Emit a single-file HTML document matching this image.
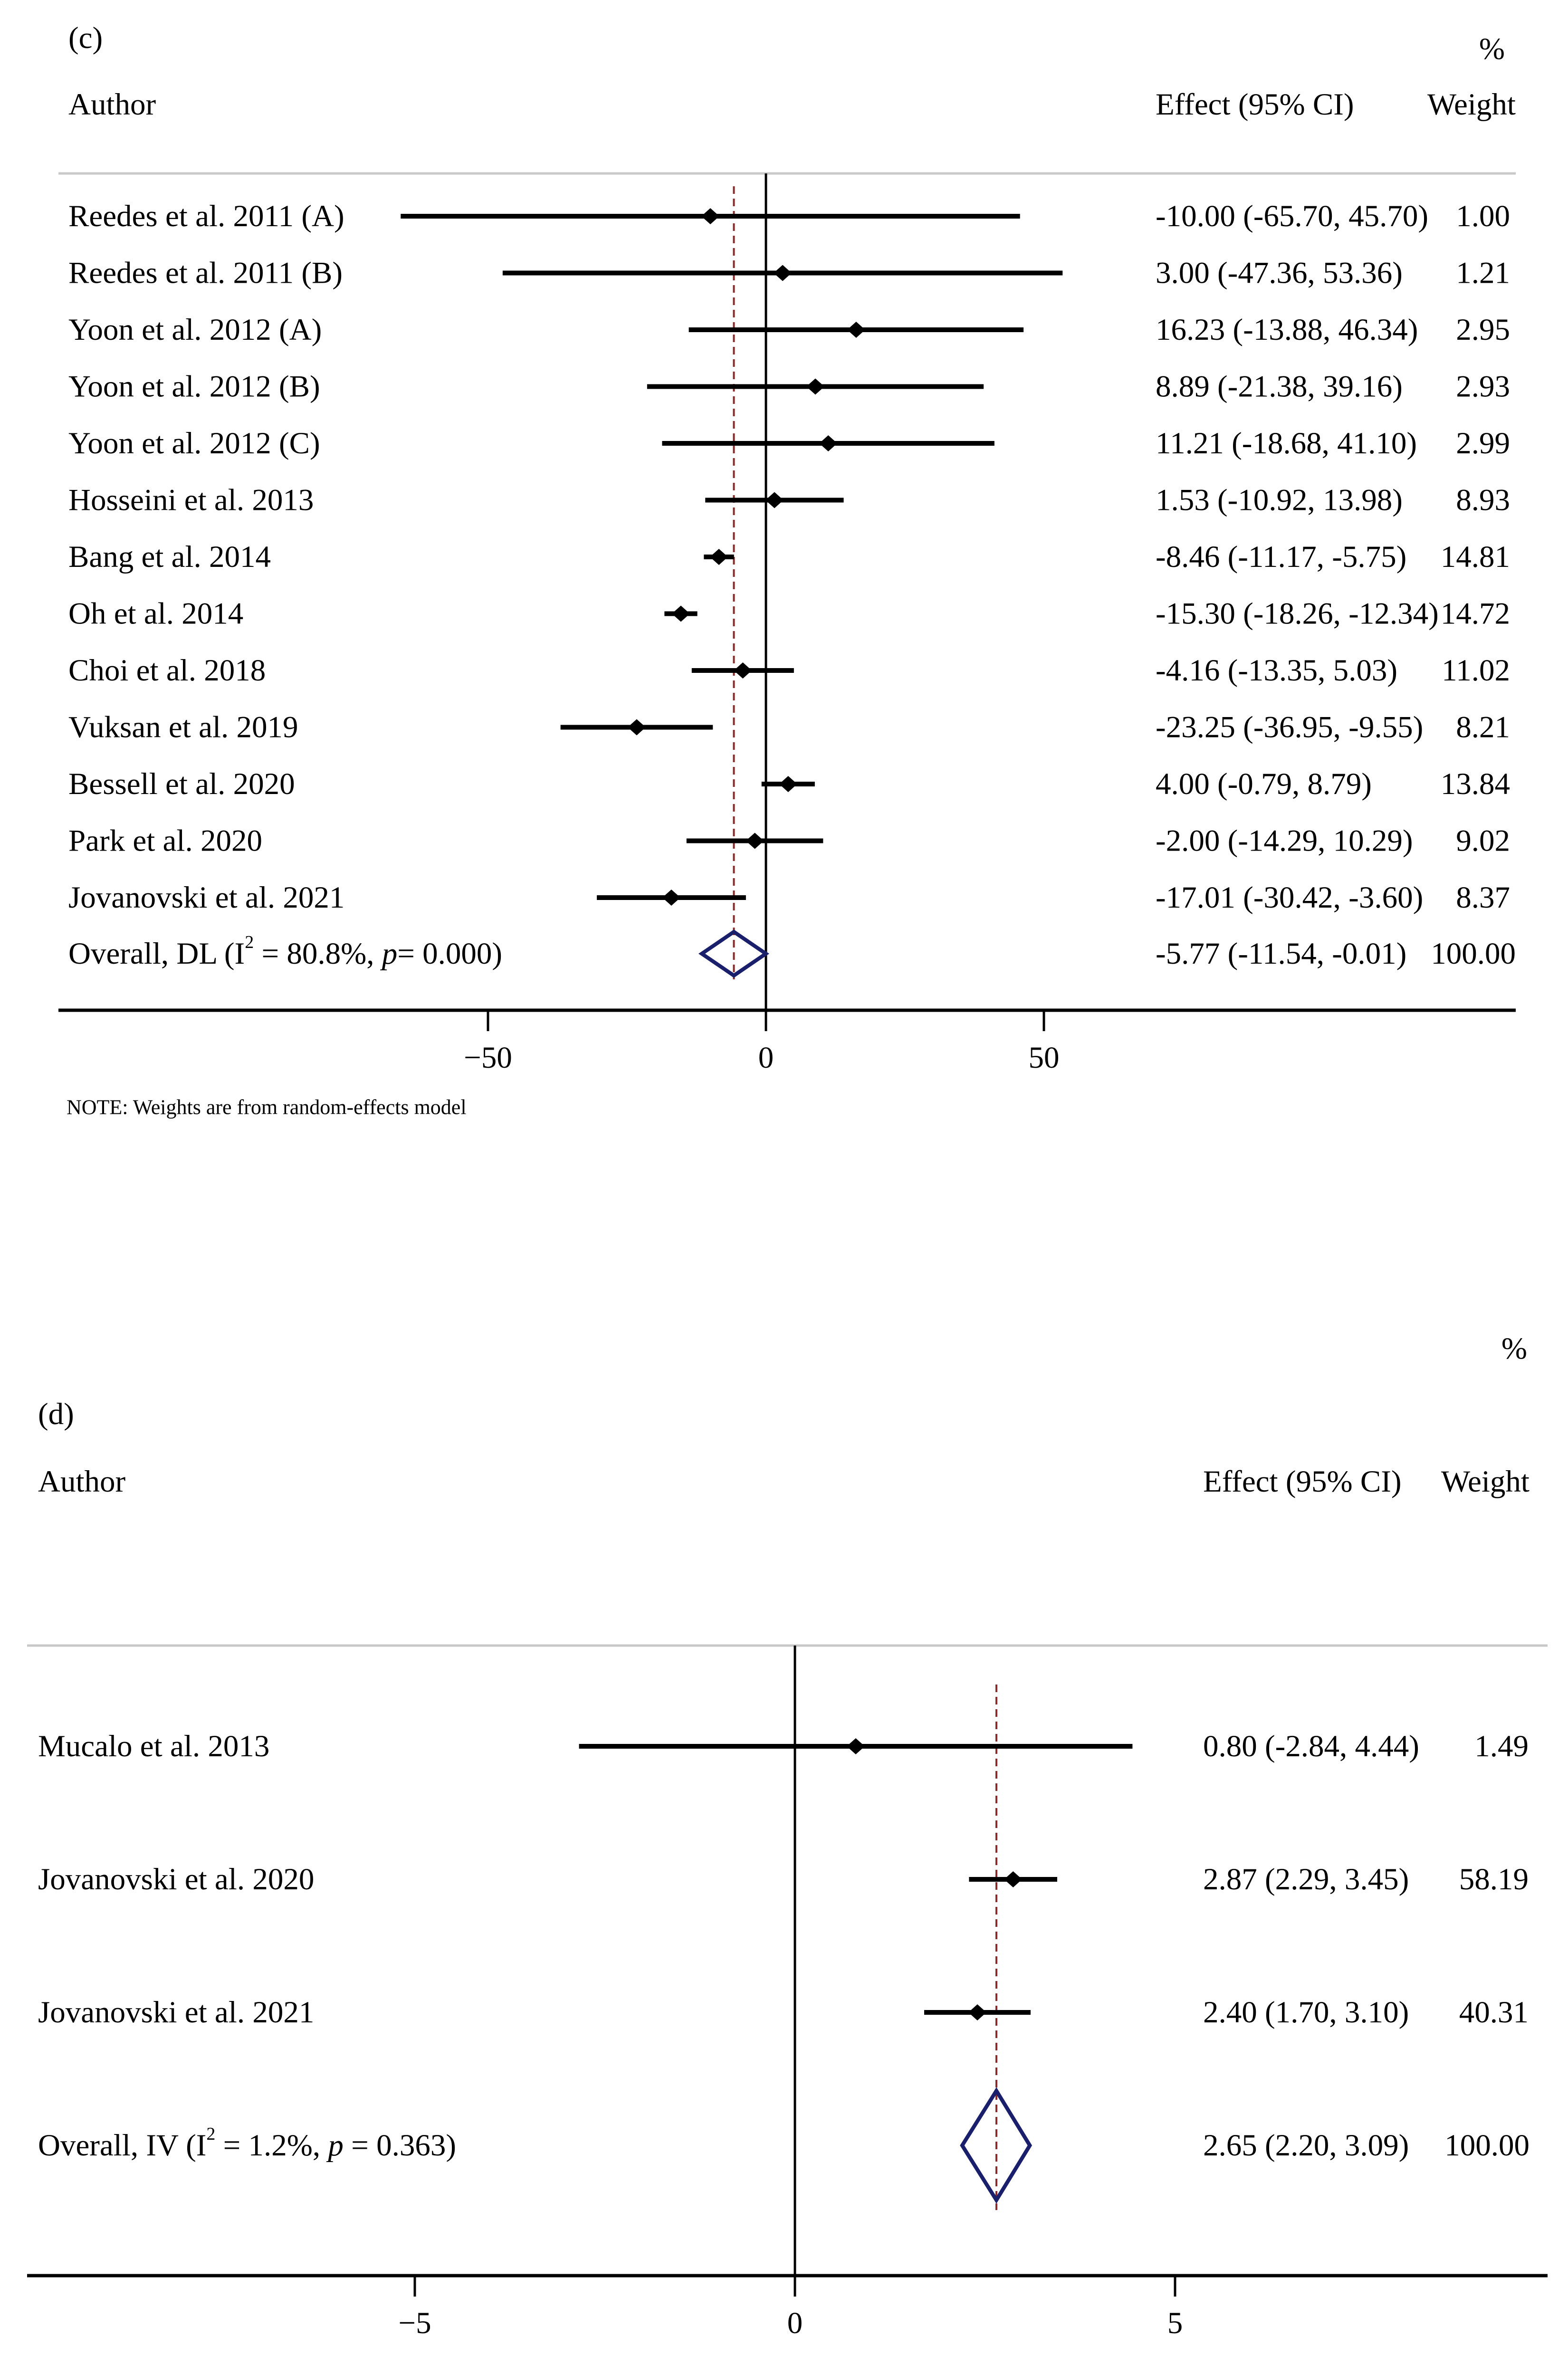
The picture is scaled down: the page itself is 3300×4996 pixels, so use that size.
<!DOCTYPE html>
<html><head><meta charset="utf-8"><style>
html,body{margin:0;padding:0;background:#fff}
svg{display:block}
text{font-family:"Liberation Serif",serif;fill:#000}
</style></head><body>
<svg id="s" width="3300" height="4996" viewBox="0 0 3300 4996" xmlns="http://www.w3.org/2000/svg">
<g id="c"></g>
<g id="d"></g>
</svg>
<script>
const cStudies=["Reedes et al. 2011 (A)","Reedes et al. 2011 (B)","Yoon et al. 2012 (A)","Yoon et al. 2012 (B)","Yoon et al. 2012 (C)","Hosseini et al. 2013","Bang et al. 2014","Oh et al. 2014","Choi et al. 2018","Vuksan et al. 2019","Bessell et al. 2020","Park et al. 2020","Jovanovski et al. 2021"];
const cEff=[-10.00,3.00,16.23,8.89,11.21,1.53,-8.46,-15.30,-4.16,-23.25,4.00,-2.00,-17.01];
const cLo=[-65.70,-47.36,-13.88,-21.38,-18.68,-10.92,-11.17,-18.26,-13.35,-36.95,-0.79,-14.29,-30.42];
const cHi=[45.70,53.36,46.34,39.16,41.10,13.98,-5.75,-12.34,5.03,-9.55,8.79,10.29,-3.60];
const cW=["1.00","1.21","2.95","2.93","2.99","8.93","14.81","14.72","11.02","8.21","13.84","9.02","8.37"];
const cOverall=[-5.77,-11.54,-0.01];
const cTicks=[-50,0,50];
const dStudies=["Mucalo et al. 2013","Jovanovski et al. 2020","Jovanovski et al. 2021"];
const dEff=[0.80,2.87,2.40];
const dLo=[-2.84,2.29,1.70];
const dHi=[4.44,3.45,3.10];
const dW=["1.49","58.19","40.31"];
const dOverall=[2.65,2.20,3.09];
const dTicks=[-5,0,5];

const NS="http://www.w3.org/2000/svg";
const FS=65;
function mk(p,tag,a,txt){const e=document.createElementNS(NS,tag);for(const k in a)e.setAttribute(k,a[k]);if(txt!==undefined)e.textContent=txt;p.appendChild(e);return e;}
function f2(v){return v.toFixed(2);}

function panel(g,o){
  const X=v=>o.x0+v*o.ppu;
  let t;
  t=mk(g,'text',{x:o.labX,y:o.labY,'font-size':FS,'dominant-baseline':'central'},o.label);
  
  t=mk(g,'text',{x:o.pctX,y:o.pctY,'font-size':FS,'dominant-baseline':'central','text-anchor':'middle'},'%');
  
  t=mk(g,'text',{x:o.labX,y:o.hdrY,'font-size':FS,'dominant-baseline':'central'},'Author');
  
  t=mk(g,'text',{x:o.effX,y:o.hdrY,'font-size':FS,'dominant-baseline':'central'},'Effect (95% CI)');
  
  t=mk(g,'text',{x:o.hR,y:o.hdrY,'font-size':FS,'dominant-baseline':'central','text-anchor':'end'},'Weight');
  
  let l=mk(g,'line',{x1:o.lx1,x2:o.lx2,y1:o.topY,y2:o.topY,stroke:'#c8c8c8','stroke-width':5});
  
  l=mk(g,'line',{x1:X(0),x2:X(0),y1:o.topY,y2:o.axY,stroke:'#000','stroke-width':5});
  
  l=mk(g,'line',{x1:X(o.ov[0]),x2:X(o.ov[0]),y1:o.dashTop,y2:o.dashBot,stroke:'#8b2a2a','stroke-width':4,'stroke-dasharray':'16,10'});
  
  o.st.forEach((s,i)=>{
    const y=o.y0+i*o.dy;
    let e=mk(g,'text',{x:o.labX,y:y,'font-size':FS,'dominant-baseline':'central'},s);
    
    e=mk(g,'line',{x1:X(o.lo[i]),x2:X(o.hi[i]),y1:y,y2:y,stroke:'#000','stroke-width':10});
    
    const cx=X(o.ef[i]);
    e=mk(g,'polygon',{points:`${cx-19},${y} ${cx},${y-17} ${cx+19},${y} ${cx},${y+17}`,fill:'#000'});
    
    e=mk(g,'text',{x:o.effX,y:y,'font-size':FS,'dominant-baseline':'central'},`${f2(o.ef[i])} (${f2(o.lo[i])}, ${f2(o.hi[i])})`);
    
    e=mk(g,'text',{x:o.wR,y:y,'font-size':FS,'dominant-baseline':'central','text-anchor':'end'},o.w[i]);
    
  });
  const oy=o.ovY;
  t=mk(g,'text',{x:o.labX,y:oy,'font-size':FS,'dominant-baseline':'central'});
  t.innerHTML=o.ovLabel;
  
  const a=X(o.ov[1]),b=X(o.ov[2]),m=X(o.ov[0]);
  let d=mk(g,'polygon',{points:`${a},${oy} ${m},${oy-o.dh} ${b},${oy} ${m},${oy+o.dh}`,fill:'none',stroke:'#1a1f6b','stroke-width':8});
  
  t=mk(g,'text',{x:o.effX,y:oy,'font-size':FS,'dominant-baseline':'central'},`${f2(o.ov[0])} (${f2(o.ov[1])}, ${f2(o.ov[2])})`);
  
  t=mk(g,'text',{x:o.hR,y:oy,'font-size':FS,'dominant-baseline':'central','text-anchor':'end'},'100.00');
  
  l=mk(g,'line',{x1:o.lx1,x2:o.lx2,y1:o.axY,y2:o.axY,stroke:'#000','stroke-width':7});
  
  o.ticks.forEach(v=>{
    let e=mk(g,'line',{x1:X(v),x2:X(v),y1:o.axY,y2:o.axY+44,stroke:'#000','stroke-width':5});
    
    e=mk(g,'text',{x:X(v),y:o.axY+100,'font-size':FS,'dominant-baseline':'central','text-anchor':'middle'},v<0?'\u2212'+Math.abs(v):String(v));
    
  });
}
panel(document.getElementById('c'),{x0:1612,ppu:11.7,labX:144,labY:80,pctX:3140,pctY:103,hdrY:220,effX:2432,wR:3178,hR:3190,
  lx1:123,lx2:3190,topY:365,axY:2126,dashTop:392,dashBot:2061,y0:455,dy:119.5,ovY:2007,dh:46,
  st:cStudies,ef:cEff,lo:cLo,hi:cHi,w:cW,ov:cOverall,ticks:cTicks,label:'(c)',
  ovLabel:'Overall, DL (I<tspan dy="-24" font-size="38">2</tspan><tspan dy="24"> = 80.8%, </tspan><tspan font-style="italic">p</tspan>= 0.000)'});
panel(document.getElementById('d'),{x0:1673,ppu:160,labX:80,labY:2976,pctX:3187,pctY:2838,hdrY:3118,effX:2532,wR:3217,hR:3219,
  lx1:57,lx2:3257,topY:3463,axY:4789,dashTop:3545,dashBot:4651,y0:3675,dy:280,ovY:4515,dh:115,
  st:dStudies,ef:dEff,lo:dLo,hi:dHi,w:dW,ov:dOverall,ticks:dTicks,label:'(d)',
  ovLabel:'Overall, IV (I<tspan dy="-24" font-size="38">2</tspan><tspan dy="24"> = 1.2%, </tspan><tspan font-style="italic">p</tspan> = 0.363)'});
const note=mk(document.getElementById('c'),'text',{x:140,y:2330,'font-size':44,'dominant-baseline':'central'},'NOTE: Weights are from random-effects model');


</script>
</body></html>
